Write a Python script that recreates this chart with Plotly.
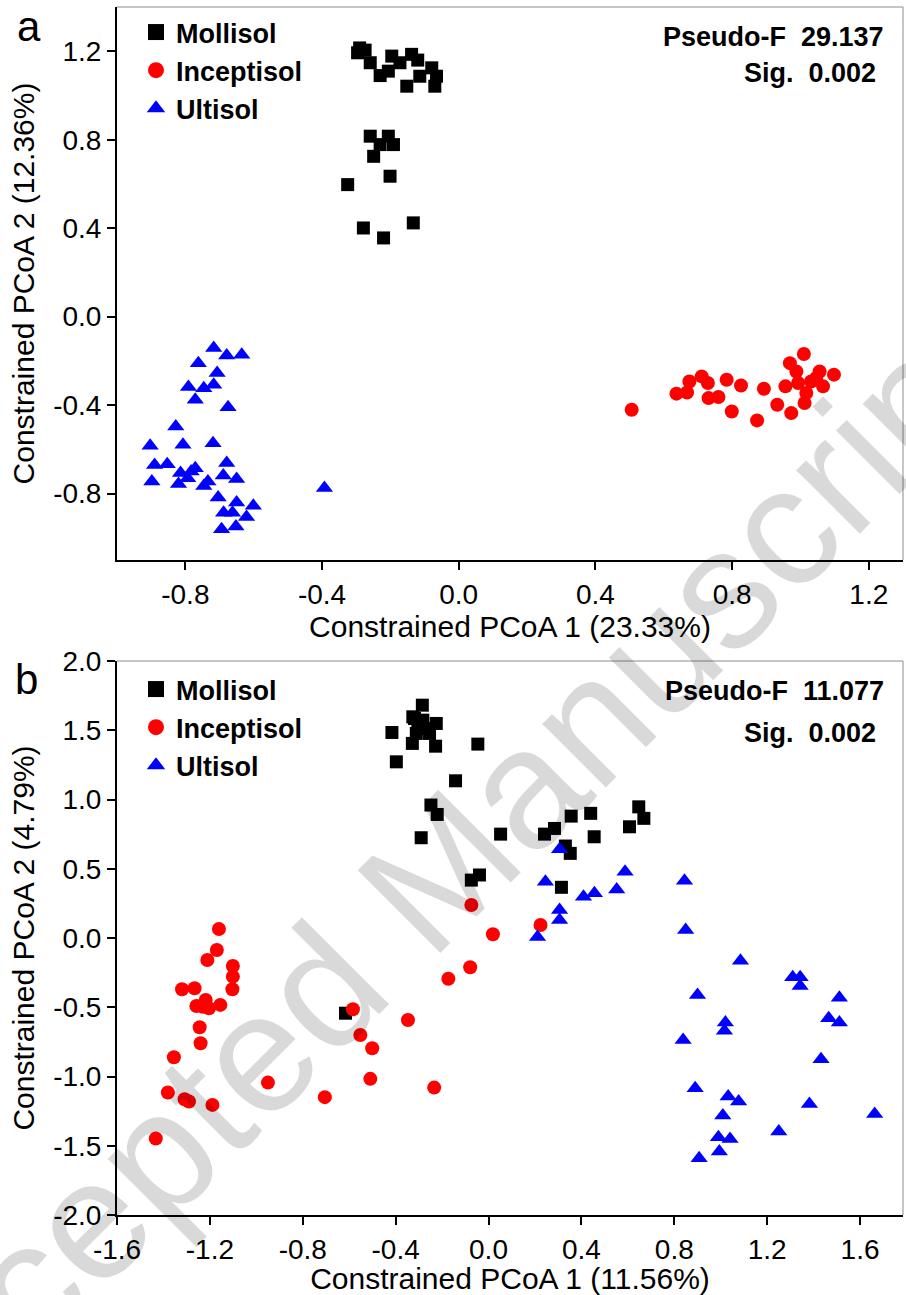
import plotly.graph_objects as go

# ---------------- Data: panel a ----------------
a_moll_x = [-0.296, -0.274, -0.259, -0.196, -0.206, -0.138, -0.172, -0.152, -0.079, -0.114,
            -0.065, -0.070, -0.230, -0.120, -0.290,
            -0.259, -0.206, -0.230, -0.191, -0.249, -0.201, -0.325, -0.279, -0.220, -0.133]
a_moll_y = [1.193, 1.205, 1.148, 1.178, 1.110, 1.186, 1.148, 1.042, 1.125, 1.087,
            1.087, 1.042, 1.090, 1.160, 1.215,
            0.816, 0.816, 0.778, 0.778, 0.725, 0.635, 0.597, 0.401, 0.356, 0.424]

a_incep_x = [0.506, 0.637, 0.668, 0.675, 0.711, 0.729, 0.731, 0.760, 0.784, 0.826,
             0.799, 0.893, 0.873, 0.932, 0.973, 0.969, 1.010, 0.988, 0.956, 0.993,
             1.017, 1.012, 1.031, 1.056, 1.066, 1.098, 1.046]
a_incep_y = [-0.421, -0.348, -0.343, -0.293, -0.270, -0.300, -0.368, -0.363, -0.285, -0.311,
             -0.429, -0.326, -0.469, -0.398, -0.436, -0.210, -0.169, -0.248, -0.315, -0.300,
             -0.345, -0.390, -0.293, -0.248, -0.315, -0.262, -0.277]

a_ult_x = [-0.717, -0.679, -0.635, -0.762, -0.707, -0.791, -0.746, -0.717, -0.771, -0.675,
           -0.828, -0.903, -0.807, -0.719, -0.890, -0.853, -0.898, -0.814, -0.771, -0.783,
           -0.793, -0.820, -0.734, -0.746, -0.679, -0.689, -0.650, -0.704, -0.650, -0.601,
           -0.688, -0.662, -0.621, -0.694, -0.652, -0.393]
a_ult_y = [-0.142, -0.176, -0.172, -0.210, -0.255, -0.318, -0.323, -0.308, -0.376, -0.409,
           -0.496, -0.584, -0.579, -0.572, -0.670, -0.667, -0.745, -0.707, -0.685, -0.700,
           -0.730, -0.756, -0.745, -0.765, -0.662, -0.718, -0.734, -0.818, -0.840, -0.855,
           -0.886, -0.886, -0.906, -0.961, -0.949, -0.775]

# ---------------- Data: panel b ----------------
b_moll_x = [-0.285, -0.326, -0.319, -0.283, -0.304, -0.268, -0.225, -0.311, -0.254, -0.416,
            -0.328, -0.228, -0.046, -0.397, -0.142, -0.248, -0.221, -0.290, 0.052, 0.241,
            0.284, 0.356, 0.440, 0.455, 0.647, 0.669, 0.607, 0.331, 0.352, -0.074,
            -0.039, 0.314, -0.616]
b_moll_y = [1.681, 1.597, 1.585, 1.573, 1.537, 1.513, 1.549, 1.477, 1.477, 1.484,
            1.405, 1.385, 1.400, 1.272, 1.135, 0.960, 0.892, 0.724, 0.750, 0.750,
            0.791, 0.880, 0.900, 0.731, 0.947, 0.864, 0.803, 0.664, 0.611, 0.418,
            0.455, 0.366, -0.543]

b_incep_x = [-1.161, -1.170, -1.211, -1.101, -1.101, -1.103, -1.320, -1.266, -1.258, -1.218,
             -1.204, -1.155, -1.230, -1.244, -1.240, -1.355, -1.381, -1.309, -1.290, -1.189,
             -1.433, -0.950, -0.705, -0.584, -0.552, -0.501, -0.509, -0.234, -0.347, -0.173,
             -0.079, 0.019, -0.074, 0.224]
b_incep_y = [0.065, -0.087, -0.159, -0.202, -0.279, -0.370, -0.370, -0.363, -0.491, -0.447,
             -0.507, -0.483, -0.496, -0.644, -0.760, -0.861, -1.116, -1.164, -1.181, -1.205,
             -1.448, -1.044, -1.149, -0.514, -0.700, -0.796, -1.017, -1.080, -0.592, -0.294,
             -0.211, 0.027, 0.238, 0.094]

b_ult_x = [0.306, 0.245, 0.409, 0.456, 0.552, 0.588, 0.306, 0.306, 0.211,
           0.844, 0.849, 1.085, 1.310, 1.342, 1.342, 0.900, 1.511, 1.020, 1.016,
           0.838, 1.465, 1.511, 1.432, 0.890, 1.032, 1.077, 1.382, 1.663, 1.009,
           1.250, 0.990, 1.040, 0.994, 0.907]
b_ult_y = [0.640, 0.406, 0.298, 0.323, 0.351, 0.478, 0.202, 0.130, 0.007,
           0.413, 0.058, -0.164, -0.284, -0.284, -0.346, -0.411, -0.431, -0.611, -0.669,
           -0.736, -0.579, -0.611, -0.875, -1.084, -1.145, -1.181, -1.198, -1.270, -1.282,
           -1.398, -1.438, -1.452, -1.542, -1.590]

# ---------------- Ticks ----------------
a_xtick_vals = [-0.8, -0.4, 0.0, 0.4, 0.8, 1.2]
a_xtick_text = ["-0.8", "-0.4", "0.0", "0.4", "0.8", "1.2"]
a_ytick_vals = [-0.8, -0.4, 0.0, 0.4, 0.8, 1.2]
a_ytick_text = ["-0.8", "-0.4", "0.0", "0.4", "0.8", "1.2"]
b_xtick_vals = [-1.6, -1.2, -0.8, -0.4, 0.0, 0.4, 0.8, 1.2, 1.6]
b_xtick_text = ["-1.6", "-1.2", "-0.8", "-0.4", "0.0", "0.4", "0.8", "1.2", "1.6"]
b_ytick_vals = [-2.0, -1.5, -1.0, -0.5, 0.0, 0.5, 1.0, 1.5, 2.0]
b_ytick_text = ["-2.0", "-1.5", "-1.0", "-0.5", "0.0", "0.5", "1.0", "1.5", "2.0"]

soil_names = ["Mollisol", "Inceptisol", "Ultisol"]
soil_colors = ["#000000", "#ff0000", "#0000ff"]
soil_symbols = ["square", "circle", "triangle-up"]
soil_sizes = [13, 14, 15]

W, H = 906, 1295
FONT = "Arial, Liberation Sans, sans-serif"

fig = go.Figure()

panels = [("x", "y", "legend", [(a_moll_x, a_moll_y), (a_incep_x, a_incep_y), (a_ult_x, a_ult_y)]),
          ("x2", "y2", "legend2", [(b_moll_x, b_moll_y), (b_incep_x, b_incep_y), (b_ult_x, b_ult_y)])]

for xa, ya, lg, series in panels:
    for i, (xs, ys) in enumerate(series):
        fig.add_trace(go.Scatter(
            x=xs, y=ys, mode="markers", name=soil_names[i], xaxis=xa, yaxis=ya,
            legend=lg, showlegend=False,
            marker=dict(symbol=soil_symbols[i], color=soil_colors[i], size=soil_sizes[i],
                        line=dict(width=0))))
        # legend key (larger symbol, no data points)
        fig.add_trace(go.Scatter(
            x=[None], y=[None], mode="markers", name=soil_names[i], xaxis=xa, yaxis=ya,
            legend=lg, showlegend=True,
            marker=dict(symbol=soil_symbols[i], color=soil_colors[i], size=16,
                        line=dict(width=0))))

x_dom = [117 / W, 903 / W]
ya_dom = [1 - 560 / H, 1 - 7 / H]
yb_dom = [1 - 1215 / H, 1 - 661 / H]

axis_common = dict(showline=True, linecolor="black", linewidth=2, ticks="outside",
                   ticklen=8, tickwidth=2, tickcolor="black", showgrid=False,
                   zeroline=False, mirror=False, automargin=False,
                   tickfont=dict(family=FONT, size=28, color="black"))

legend_common = dict(xanchor="left", yanchor="top", bgcolor="rgba(0,0,0,0)", borderwidth=0,
                     tracegroupgap=0,
                     font=dict(family=FONT, size=27, color="black", weight="bold"))

fig.update_layout(
    width=W, height=H, autosize=False,
    margin=dict(l=0, r=0, t=0, b=0, autoexpand=False),
    paper_bgcolor="white", plot_bgcolor="white",
    font=dict(family=FONT, color="black"),
    xaxis=dict(domain=x_dom, range=[-1.0, 1.3], anchor="y",
               tickvals=a_xtick_vals, ticktext=a_xtick_text,
               title=dict(text="Constrained PCoA 1 (23.33%)", font=dict(size=30), standoff=2),
               **axis_common),
    yaxis=dict(domain=ya_dom, range=[-1.1, 1.4], anchor="x",
               tickvals=a_ytick_vals, ticktext=a_ytick_text,
               title=dict(text="Constrained PCoA 2 (12.36%)", font=dict(size=30), standoff=10),
               **axis_common),
    xaxis2=dict(domain=x_dom, range=[-1.6, 1.785], anchor="y2",
                tickvals=b_xtick_vals, ticktext=b_xtick_text,
                title=dict(text="Constrained PCoA 1 (11.56%)", font=dict(size=30), standoff=0),
                **axis_common),
    yaxis2=dict(domain=yb_dom, range=[-2.0, 2.0], anchor="x2",
                tickvals=b_ytick_vals, ticktext=b_ytick_text,
                title=dict(text="Constrained PCoA 2 (4.79%)", font=dict(size=30), standoff=10),
                **axis_common),
    legend=dict(x=136 / W, y=1 - 8 / H, **legend_common),
    legend2=dict(x=136 / W, y=1 - 665 / H, **legend_common),
    showlegend=True,
)

# thin grey top / right frame
for xr, yr in [("x", "y"), ("x2", "y2")]:
    fig.add_shape(type="line", xref=xr + " domain", yref=yr + " domain",
                  x0=0, x1=1, y0=1, y1=1, line=dict(color="#8c8c8c", width=1))
    fig.add_shape(type="line", xref=xr + " domain", yref=yr + " domain",
                  x0=1, x1=1, y0=0, y1=1, line=dict(color="#8c8c8c", width=1))

def ann(text, px, py, size, xanchor="center", bold=False):
    fig.add_annotation(text=("<b>%s</b>" % text) if bold else text,
                       xref="paper", yref="paper", x=px / W, y=1 - py / H,
                       xanchor=xanchor, yanchor="middle", showarrow=False,
                       font=dict(family=FONT, size=size, color="black"))

ann("Pseudo-F&nbsp;&nbsp;29.137", 886, 37, 27, "right", True)
ann("Sig.&nbsp;&nbsp;0.002", 878, 73, 27, "right", True)
ann("Pseudo-F&nbsp;&nbsp;11.077", 886, 691, 27, "right", True)
ann("Sig.&nbsp;&nbsp;0.002", 878, 733, 27, "right", True)
ann("a", 29, 26, 42)
ann("b", 26, 680, 42)

# watermark
fig.add_annotation(text="Accepted Manuscript", xref="paper", yref="paper",
                   x=415 / W, y=1 - 895 / H, xanchor="center", yanchor="middle",
                   showarrow=False, textangle=-45,
                   font=dict(family=FONT, size=170, color="rgba(0,0,0,0.15)"))

fig.write_html("out.html")
